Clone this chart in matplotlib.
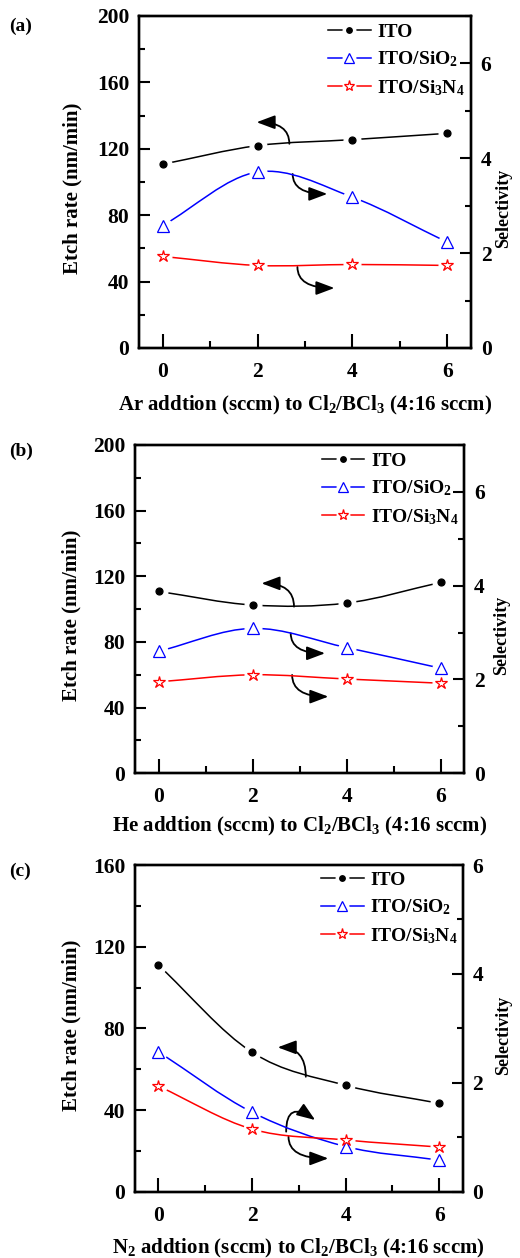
import numpy as np
import matplotlib
matplotlib.use("Agg")
import matplotlib.pyplot as plt
from matplotlib.path import Path
from matplotlib.patches import PathPatch, FancyArrowPatch
from matplotlib.lines import Line2D
from matplotlib.ticker import MultipleLocator

plt.rcParams["font.family"] = "Liberation Serif"
plt.rcParams["font.weight"] = "bold"
plt.rcParams["axes.labelweight"] = "bold"
plt.rcParams["mathtext.fontset"] = "custom"
plt.rcParams["mathtext.rm"] = "Liberation Serif:bold"
plt.rcParams["mathtext.it"] = "Liberation Serif:bold"
plt.rcParams["mathtext.bf"] = "Liberation Serif:bold"

# gas flow added (sccm)
flow = [0, 2, 4, 6]

# (a) Ar addition
ar_ito = [110.7, 121.9, 125.5, 129.3]
ar_sio2 = [2.58, 3.71, 3.18, 2.23]
ar_sin = [1.93, 1.74, 1.76, 1.74]

# (b) He addition
he_ito = [110.8, 102.5, 103.7, 116.3]
he_sio2 = [2.60, 3.09, 2.68, 2.24]
he_sin = [1.95, 2.10, 2.01, 1.92]

# (c) N2 addition
n2_ito = [111.0, 68.3, 52.1, 43.3]
n2_sio2 = [2.57, 1.46, 0.83, 0.58]
n2_sin = [1.94, 1.15, 0.95, 0.82]

series_names = ["ITO", "ITO/SiO$_2$", "ITO/Si$_3$N$_4$"]


def smooth_path(x, y):
    # catmull-rom style bezier through the measured points
    p = np.column_stack([x, y]).astype(float)
    m = np.zeros_like(p)
    m[0] = p[1] - p[0]
    m[-1] = p[-1] - p[-2]
    m[1:-1] = (p[2:] - p[:-2]) / 2
    verts = [p[0]]
    codes = [Path.MOVETO]
    for i in range(len(p) - 1):
        verts += [p[i] + m[i] / 3, p[i + 1] - m[i + 1] / 3, p[i + 1]]
        codes += [Path.CURVE4] * 3
    return Path(verts, codes)


def draw_series(ax, x, y, color, marker, ms, mfc):
    ax.add_patch(PathPatch(smooth_path(x, y), fc="none", ec=color, lw=1.1, zorder=2))
    ax.plot(x, y, ls="none", marker="o", ms=12, mfc="white", mec="white", zorder=3)
    ax.plot(x, y, ls="none", marker=marker, ms=ms, mfc=mfc, mec=color, mew=0.9, zorder=4)
    line = Line2D([], [], color=color, lw=1.1)
    halo = Line2D([], [], ls="none", marker="o", ms=9, mfc="white", mec="white")
    mk = Line2D([], [], ls="none", marker=marker, ms=ms - 1, mfc=mfc, mec=color, mew=0.9)
    return (line, halo, mk)


def curved_arrow(ax, start, end, angle_a, angle_b):
    arr = FancyArrowPatch(start, end,
                          connectionstyle=f"angle3,angleA={angle_a},angleB={angle_b}",
                          arrowstyle="-|>,head_length=0.8,head_width=0.3",
                          mutation_scale=14, lw=1.3, color="black",
                          shrinkA=0, shrinkB=0, zorder=5)
    ax.add_patch(arr)


def panel(rect, label, ito, sio2, sin, ymax, rmax, xlabel, arrows, leg_anchor, sel_pos, etch_pos, xl_pos):
    ax = fig.add_axes(rect)
    ax2 = ax.twinx()

    h1 = draw_series(ax, flow, ito, "black", "o", 5, "black")
    h2 = draw_series(ax2, flow, sio2, "blue", "^", 8, "white")
    h3 = draw_series(ax2, flow, sin, "red", "*", 9, "white")

    ax.set_xlim(-0.5, 6.5)
    ax.set_ylim(0, ymax)
    ax2.set_ylim(0, rmax)

    ax.xaxis.set_major_locator(MultipleLocator(2))
    ax.xaxis.set_minor_locator(MultipleLocator(1))
    ax.yaxis.set_major_locator(MultipleLocator(40))
    ax.yaxis.set_minor_locator(MultipleLocator(20))
    ax2.yaxis.set_major_locator(MultipleLocator(2))
    ax2.yaxis.set_minor_locator(MultipleLocator(1))

    ax.tick_params(axis="both", which="major", direction="in", length=8, width=1.5,
                   labelsize=15.5, top=False, right=False)
    ax.tick_params(axis="both", which="minor", direction="in", length=4, width=1.5,
                   top=False, right=False)
    ax.tick_params(axis="x", which="major", pad=10, length=10)
    ax.tick_params(axis="x", which="minor", length=5)
    ax.tick_params(axis="y", which="major", pad=7)
    ax2.tick_params(axis="y", which="major", direction="in", length=8, width=1.5,
                    labelsize=15.5, pad=7)
    ax2.tick_params(axis="y", which="minor", direction="in", length=4, width=1.5)

    for a in (ax, ax2):
        for s in a.spines.values():
            s.set_linewidth(1.7)

    ax.set_ylabel("Etch rate (nm/min)", fontsize=15)
    ax.yaxis.set_label_coords(*etch_pos)
    ax2.set_ylabel("Selectivity", fontsize=13)
    ax2.yaxis.set_label_coords(*sel_pos)
    ax.set_xlabel(xlabel, fontsize=15)
    ax.xaxis.set_label_coords(*xl_pos)

    for start, end, aa, ab in arrows:
        curved_arrow(ax, start, end, aa, ab)

    ax2.legend([h1, h2, h3], series_names, loc="upper left", bbox_to_anchor=leg_anchor,
               frameon=False, fontsize=14, handlelength=2.2, handletextpad=0.35,
               labelspacing=0.45, borderpad=0, borderaxespad=0)

    fig.text(label[1], label[2], label[0], fontsize=14, fontweight="bold",
             ha="left", va="center")
    return ax, ax2


fig = plt.figure(figsize=(5.2, 12.58), dpi=100)

panel([0.2673, 0.7234, 0.6385, 0.2639], ("(a)", 0.018, 0.979),
      ar_ito, ar_sio2, ar_sin, 200, 7,
      "Ar addtion (sccm) to Cl$_2$/BCl$_3$ (4:16 sccm)",
      [((2.67, 123), (1.98, 136), 90, 0),
       ((2.74, 104.8), (3.47, 92.8), 90, 0),
       ((2.84, 48.8), (3.62, 36.1), 90, 0)],
      (0.569, 0.978), (1.072, 0.42), (-0.169, 0.48), (0.5, -0.14))

panel([0.2596, 0.3853, 0.6333, 0.261], ("(b)", 0.018, 0.641),
      he_ito, he_sio2, he_sin, 200, 7,
      "He addtion (sccm) to Cl$_2$/BCl$_3$ (4:16 sccm)",
      [((2.88, 101.5), (2.19, 115.7), 90, 0),
       ((2.81, 85.3), (3.54, 73.1), 90, 0),
       ((2.84, 59.9), (3.61, 46.7), 90, 0)],
      (0.567, 0.978), (1.088, 0.42), (-0.161, 0.48), (0.5, -0.127))

panel([0.2596, 0.0527, 0.630, 0.2597], ("(c)", 0.018, 0.307),
      n2_ito, n2_sio2, n2_sin, 160, 6,
      "N$_2$ addtion (sccm) to Cl$_2$/BCl$_3$ (4:16 sccm)",
      [((3.15, 56.3), (2.55, 70.7), 90, 0),
       ((2.73, 29.4), (3.35, 35.1), 90, -35),
       ((2.78, 26.9), (3.63, 16.3), 90, 0)],
      (0.567, 0.981), (1.10, 0.48), (-0.162, 0.51), (0.5, -0.138))

fig.savefig("out.png", dpi=100)
